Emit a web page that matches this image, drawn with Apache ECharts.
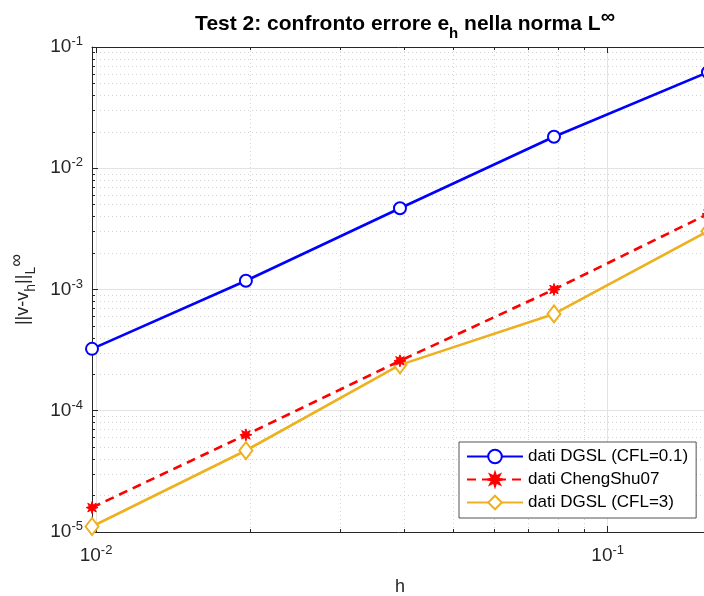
<!DOCTYPE html>
<html>
<head>
<meta charset="utf-8">
<script src="https://cdn.jsdelivr.net/npm/echarts@6/dist/echarts.min.js"></script>
<style>
  html, body { margin: 0; padding: 0; background: #fff; }
  #chart { width: 704px; height: 596px; }
</style>
</head>
<body>
<div id="chart"></div>
<script>
// data
const hValues = [0.00982, 0.01963, 0.03927, 0.07854, 0.15708];
const errDGSL01 = [3.24e-4, 1.18e-3, 4.68e-3, 1.82e-2, 6.2e-2];
const errChengShu = [1.59e-5, 6.33e-5, 2.58e-4, 1.0e-3, 4.2e-3];
const errDGSL3 = [1.11e-5, 4.70e-5, 2.39e-4, 6.29e-4, 3.03e-3];

const seriesNames = ['dati DGSL (CFL=0.1)', 'dati ChengShu07', 'dati DGSL (CFL=3)'];

// ticks
const xMajor = [0.01, 0.1];
const xMinor = [0.02, 0.03, 0.04, 0.05, 0.06, 0.07, 0.08, 0.09];
const yMajor = [1e-5, 1e-4, 1e-3, 1e-2, 1e-1];
const yMinor = [];
[1e-5, 1e-4, 1e-3, 1e-2].forEach(function (d) {
    for (let k = 2; k <= 9; k++) yMinor.push(k * d);
});

const FONT = 'Liberation Sans';
const AX = '#262626';

function pow10Label(v) {
    const e = Math.round(Math.log10(v));
    return '10{sup|' + e + '}';
}

const tickRich = {
    sup: { fontSize: 13, lineHeight: 13, verticalAlign: 'top', color: AX, fontFamily: FONT }
};

// asterisk-like marker shape
function starPath() {
    let p = 'path://';
    for (let i = 0; i < 16; i++) {
        const a = i * Math.PI / 8;
        const r = i % 2 === 0 ? 50 : 24;
        p += (i === 0 ? 'M' : 'L') + (50 + r * Math.cos(a)).toFixed(2) + ' ' + (50 + r * Math.sin(a)).toFixed(2) + ' ';
    }
    return p + 'Z';
}

function pairs(ys) {
    return hValues.map(function (h, i) { return [h, ys[i]]; });
}

function logAxis(pos, extra) {
    return Object.assign({
        type: 'log',
        logBase: 10,
        position: pos,
        axisLine: { show: false },
        axisTick: { show: false },
        axisLabel: { show: false },
        splitLine: { show: false },
        minorTick: { show: false },
        minorSplitLine: { show: false }
    }, extra);
}

const xRange = { min: hValues[0], max: hValues[hValues.length - 1] };
const yRange = { min: 1e-5, max: 1e-1 };

const chart = echarts.init(document.getElementById('chart'), null, { renderer: 'canvas' });

const option = {
    backgroundColor: '#ffffff',
    animation: false,
    title: {
        text: 'Test 2: confronto errore e{sub|h} nella norma L{sup|∞}',
        left: 400,
        textAlign: 'center',
        top: 2,
        textStyle: {
            fontFamily: FONT,
            fontSize: 21,
            fontWeight: 'bold',
            color: '#000',
            lineHeight: 34,
            rich: {
                sub: { fontSize: 15, fontWeight: 'bold', lineHeight: 15, verticalAlign: 'bottom', color: '#000', fontFamily: FONT },
                sup: { fontSize: 20, fontWeight: 'bold', lineHeight: 20, verticalAlign: 'top', color: '#000', fontFamily: FONT }
            }
        }
    },
    grid: { left: 92, top: 47, width: 616, height: 485, containLabel: false, outerBoundsMode: 'none' },
    legend: {
        orient: 'vertical',
        left: 459,
        top: 442,
        itemWidth: 56,
        itemHeight: 17,
        itemGap: 6,
        padding: [6, 8, 7, 7],
        backgroundColor: '#fff',
        borderColor: AX,
        borderWidth: 0.8,
        textStyle: { fontFamily: FONT, fontSize: 17, color: '#000' },
        data: seriesNames
    },
    xAxis: [
        logAxis('bottom', Object.assign({
            name: 'h',
            nameLocation: 'middle',
            nameGap: 46,
            nameTextStyle: { fontFamily: FONT, fontSize: 18, color: AX },
            axisLine: { show: true, lineStyle: { color: AX, width: 1 } },
            axisTick: { show: true, inside: true, length: 6, customValues: xMajor, lineStyle: { color: AX } },
            axisLabel: {
                show: true, customValues: xMajor, margin: 12,
                fontFamily: FONT, fontSize: 19, color: AX, lineHeight: 24,
                formatter: pow10Label, rich: tickRich
            },
            splitLine: { show: true, lineStyle: { color: '#e3e3e3', width: 1 } }
        }, xRange)),
        logAxis('bottom', Object.assign({
            axisTick: { show: true, inside: true, length: 3, customValues: xMinor, lineStyle: { color: AX } },
            splitLine: { show: true, lineStyle: { color: '#d4d4d4', width: 1, type: [1, 3] } }
        }, xRange)),
        logAxis('top', Object.assign({
            axisLine: { show: true, lineStyle: { color: AX, width: 1 } },
            axisTick: { show: true, inside: true, length: 6, customValues: xMajor, lineStyle: { color: AX } }
        }, xRange)),
        logAxis('top', Object.assign({
            axisTick: { show: true, inside: true, length: 3, customValues: xMinor, lineStyle: { color: AX } }
        }, xRange))
    ],
    yAxis: [
        logAxis('left', Object.assign({
            name: '||v-v{sub|h}||{sub|L}{sup|∞}',
            nameLocation: 'middle',
            nameGap: 54,
            nameRotate: 90,
            nameTextStyle: {
                fontFamily: FONT, fontSize: 18, color: AX, lineHeight: 30,
                rich: {
                    sub: { fontSize: 14, lineHeight: 14, verticalAlign: 'bottom', color: AX, fontFamily: FONT },
                    sup: { fontSize: 18, lineHeight: 18, verticalAlign: 'top', color: AX, fontFamily: FONT }
                }
            },
            axisLine: { show: true, lineStyle: { color: AX, width: 1 } },
            axisTick: { show: true, inside: true, length: 6, customValues: yMajor, lineStyle: { color: AX } },
            axisLabel: {
                show: true, customValues: yMajor, margin: 9,
                fontFamily: FONT, fontSize: 19, color: AX, lineHeight: 24,
                formatter: pow10Label, rich: tickRich
            },
            splitLine: { show: true, lineStyle: { color: '#e3e3e3', width: 1 } }
        }, yRange)),
        logAxis('left', Object.assign({
            axisTick: { show: true, inside: true, length: 3, customValues: yMinor, lineStyle: { color: AX } },
            splitLine: { show: true, lineStyle: { color: '#d4d4d4', width: 1, type: [1, 3] } }
        }, yRange))
    ],
    series: [
        {
            name: seriesNames[0],
            type: 'line',
            xAxisIndex: 0,
            yAxisIndex: 0,
            data: pairs(errDGSL01),
            symbol: 'emptyCircle',
            symbolSize: 12,
            color: '#0000ff',
            itemStyle: { color: '#0000ff', borderWidth: 2.2 },
            lineStyle: { color: '#0000ff', width: 2.6 },
            emphasis: { disabled: true },
            z: 5
        },
        {
            name: seriesNames[1],
            type: 'line',
            xAxisIndex: 0,
            yAxisIndex: 0,
            data: pairs(errChengShu),
            symbol: starPath(),
            symbolSize: 12,
            color: '#ff0000',
            itemStyle: { color: '#ff0000', borderColor: '#ff0000', borderWidth: 1 },
            lineStyle: { color: '#ff0000', width: 2.6, type: [9, 6] },
            emphasis: { disabled: true },
            z: 4
        },
        {
            name: seriesNames[2],
            type: 'line',
            xAxisIndex: 0,
            yAxisIndex: 0,
            data: pairs(errDGSL3),
            symbol: 'emptyDiamond',
            symbolSize: [13, 17],
            color: '#edb120',
            itemStyle: { color: '#edb120', borderWidth: 2.2 },
            lineStyle: { color: '#edb120', width: 2.6 },
            emphasis: { disabled: true },
            z: 3
        }
    ]
};

chart.setOption(option);
</script>
</body>
</html>
